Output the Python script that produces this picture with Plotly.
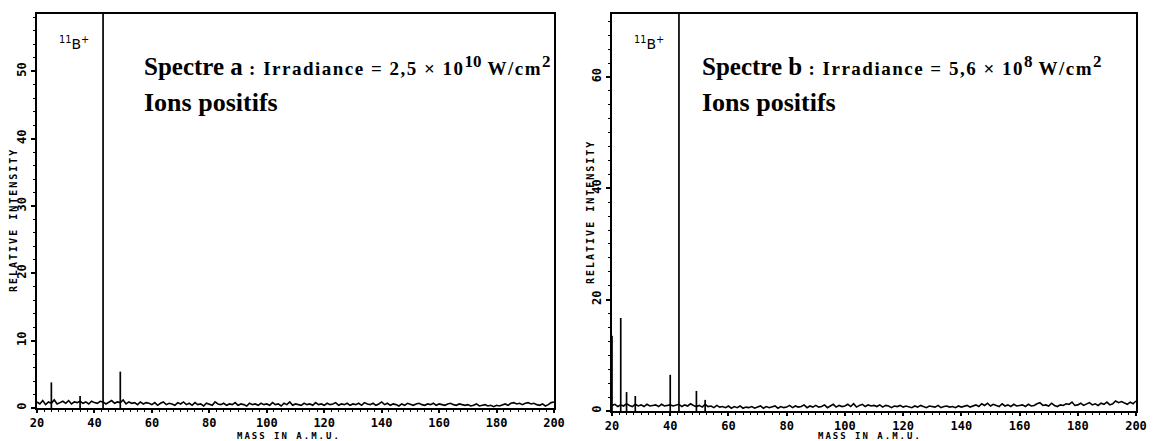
import plotly.graph_objects as go

W, H = 1157, 441

# ---------------- data ----------------
mass_start = 20
noise_a = [0.9,0.6,1.1,0.5,0.9,0.7,1.2,0.6,0.8,1.0,
           0.7,1.1,0.6,0.9,0.8,1.0,0.7,0.9,0.6,1.0,
           0.8,0.7,1.0,0.9,0.6,0.8,1.1,0.7,0.9,0.8,
           1.2,0.6,0.9,0.7,0.8,0.5,0.9,0.6,0.8,0.7,
           0.5,0.8,0.4,0.7,0.9,0.5,0.7,0.6,0.4,0.8,
           0.6,0.9,0.5,0.7,0.4,0.8,0.5,0.6,0.3,0.7,
           0.5,0.4,0.9,0.6,0.5,0.7,0.4,0.6,0.5,0.8,
           0.4,0.6,0.5,0.3,0.7,0.5,0.6,0.4,0.7,0.5,
           0.6,0.4,0.8,0.5,0.6,0.3,0.7,0.5,0.9,0.4,
           0.6,0.5,0.4,0.7,0.5,0.6,0.4,0.8,0.5,0.6,
           0.4,0.7,0.5,0.6,0.8,0.4,0.6,0.5,0.7,0.4,
           0.6,0.5,0.7,0.4,0.8,0.6,0.5,0.7,0.4,0.6,
           0.9,0.5,0.7,0.4,0.6,0.5,0.3,0.6,0.4,0.7,
           0.5,0.4,0.6,0.7,0.5,0.4,0.6,0.5,0.7,0.4,
           0.6,0.5,0.4,0.6,0.7,0.5,0.4,0.6,0.5,0.4,
           0.5,0.3,0.4,0.6,0.3,0.4,0.5,0.3,0.4,0.2,
           0.4,0.3,0.5,0.6,0.4,0.7,0.8,0.6,0.7,0.5,
           0.7,0.8,0.6,0.7,0.5,0.4,0.6,0.3,0.5,0.8,
           0.9]
noise_b = [1.0,1.2,0.8,1.1,0.9,1.3,1.0,0.8,1.2,0.9,
           1.1,0.8,1.2,0.9,1.0,1.1,0.8,1.2,0.9,1.0,
           1.1,0.9,1.0,1.2,0.8,1.1,0.9,1.3,1.0,0.8,
           1.0,0.7,1.2,0.8,0.9,0.6,1.0,0.7,0.8,0.6,
           0.9,0.5,0.8,0.6,0.9,0.5,0.7,0.6,0.8,0.5,
           0.7,0.9,0.5,0.8,0.6,0.7,0.9,0.5,0.8,0.6,
           0.7,1.0,0.6,0.9,0.7,0.8,1.1,0.6,0.9,0.7,
           1.0,0.7,0.8,1.1,0.6,0.9,1.2,0.7,1.0,0.8,
           0.9,1.2,0.8,1.3,0.7,1.0,1.2,0.8,1.1,0.9,
           1.0,0.8,1.1,0.7,1.0,0.9,0.6,0.9,0.8,1.0,
           0.7,0.9,0.8,0.6,0.9,0.7,1.0,0.8,0.6,0.9,
           0.8,0.7,1.0,0.6,0.8,0.9,0.7,0.8,0.6,0.9,
           0.7,0.8,1.0,0.7,0.9,1.1,0.8,1.3,1.0,1.4,
           0.9,1.2,1.0,0.8,1.3,0.9,1.1,0.8,1.2,0.9,
           1.0,1.1,0.8,1.2,0.9,1.0,1.3,1.5,1.0,1.1,
           0.9,1.4,1.0,0.8,1.1,1.0,1.3,1.2,1.6,1.0,
           1.1,1.4,1.0,1.2,1.5,1.1,1.3,1.0,1.4,1.2,
           1.6,1.1,1.3,1.8,1.5,1.7,1.4,1.2,1.6,1.3,
           1.8]
masses = list(range(mass_start, mass_start + len(noise_a)))

peak_mass_a = [25, 35, 43, 49]
peak_int_a = [3.8, 1.8, 100, 5.4]
peak_mass_b = [20, 23, 25, 28, 40, 43, 49, 52]
peak_int_b = [13.5, 16.7, 3.4, 2.7, 6.5, 100, 3.6, 2.0]

x_ticks = [20, 40, 60, 80, 100, 120, 140, 160, 180, 200]
y_ticks_a = [0, 10, 20, 30, 40, 50]
y_ticks_b = [0, 20, 40, 60]

SUP = "<sup><span style='font-size:17px'>{}</span></sup>"
SMALL = "<span style='letter-spacing:1.5px'>{}</span>"
titles = ["<b><span style='font-size:25px'>Spectre a</span>"
          + SMALL.format(" : Irradiance = 2,5 × 10") + SUP.format("10")
          + SMALL.format(" W/cm") + SUP.format("2") + "</b>",
          "<b><span style='font-size:25px'>Spectre b</span>"
          + SMALL.format(" : Irradiance = 5,6 × 10") + SUP.format("8")
          + SMALL.format(" W/cm") + SUP.format("2") + "</b>"]
subtitle = "<b>Ions positifs</b>"
ion_label = "<sup>11</sup>B<sup>+</sup>"
x_title = "<span style='letter-spacing:2px'>MASS IN A.M.U.</span>"
y_title = "<span style='letter-spacing:2px'>RELATIVE INTENSITY</span>"


def spikes(ms, hs):
    xs, ys = [], []
    for m, h in zip(ms, hs):
        xs += [m, m, None]
        ys += [0, h, None]
    return xs, ys


fig = go.Figure()
for i, (noise, pm, ph) in enumerate([(noise_a, peak_mass_a, peak_int_a),
                                     (noise_b, peak_mass_b, peak_int_b)]):
    xa = "x" if i == 0 else "x2"
    ya = "y" if i == 0 else "y2"
    fig.add_trace(go.Scatter(x=masses, y=noise, mode="lines",
                             line=dict(color="black", width=1.6),
                             xaxis=xa, yaxis=ya, showlegend=False))
    sx, sy = spikes(pm, ph)
    fig.add_trace(go.Scatter(x=sx, y=sy, mode="lines",
                             line=dict(color="black", width=1.7),
                             xaxis=xa, yaxis=ya, showlegend=False))

tickfont = dict(family="DejaVu Sans Mono", size=12, color="black", weight="bold")
common_x = dict(range=[20, 200], tickvals=x_ticks, ticks="outside", ticklen=3,
                tickwidth=1.5, tickcolor="black", showline=True, linecolor="black",
                linewidth=1.5, mirror=True, showgrid=False, zeroline=False,
                tickfont=tickfont, automargin=False,
                minor=dict(dtick=2.5, ticks="outside", ticklen=2, tickcolor="black",
                           tickwidth=1, showgrid=False))
common_y = dict(ticks="outside", ticklen=4, tickwidth=1.5, tickcolor="black",
                showline=True, linecolor="black", linewidth=1.5, mirror=True,
                showgrid=False, zeroline=False, tickangle=-90, tickfont=tickfont,
                automargin=False)

fig.update_layout(
    width=W, height=H, margin=dict(l=0, r=0, t=0, b=0, autoexpand=False),
    paper_bgcolor="white", plot_bgcolor="white",
    xaxis=dict(domain=[37 / W, 554 / W], anchor="y", **common_x),
    yaxis=dict(domain=[1 - 408 / H, 1 - 14 / H], anchor="x", range=[0, 58.5],
               tickvals=y_ticks_a,
               minor=dict(dtick=2, ticks="outside", ticklen=2, tickcolor="black",
                          tickwidth=1, showgrid=False),
               **common_y),
    xaxis2=dict(domain=[612 / W, 1136 / W], anchor="y2", **common_x),
    yaxis2=dict(domain=[1 - 411 / H, 1 - 14 / H], anchor="x2", range=[0, 71.3],
                tickvals=y_ticks_b,
                minor=dict(dtick=2.5, ticks="outside", ticklen=2, tickcolor="black",
                           tickwidth=1, showgrid=False),
                **common_y),
)

serif = dict(family="Liberation Serif", size=19, color="black")
ann = []
panels = [(142, 289, 13, 220, 74), (700, 870, 591, 212, 649)]
for idx, (tx, sx, yx, yy, ionx) in enumerate(panels):
    ann.append(dict(x=tx / W, y=1 - 66 / H, xref="paper", yref="paper",
                    text=titles[idx], showarrow=False, xanchor="left",
                    yanchor="middle", font=serif))
    ann.append(dict(x=tx / W, y=1 - 103 / H, xref="paper", yref="paper",
                    text=subtitle, showarrow=False, xanchor="left",
                    yanchor="middle",
                    font=dict(family="Liberation Serif", size=26, color="black")))
    ann.append(dict(x=ionx / W, y=1 - 43 / H, xref="paper", yref="paper",
                    text=ion_label, showarrow=False, xanchor="center",
                    yanchor="middle",
                    font=dict(family="DejaVu Sans", size=14, color="black")))
    ann.append(dict(x=sx / W, y=1 - 436 / H, xref="paper", yref="paper",
                    text=x_title, showarrow=False, xanchor="center",
                    yanchor="middle",
                    font=dict(family="DejaVu Sans Mono", size=9, color="black",
                              weight="bold")))
    ann.append(dict(x=yx / W, y=1 - yy / H, xref="paper", yref="paper",
                    text=y_title, showarrow=False, textangle=-90,
                    xanchor="center", yanchor="middle",
                    font=dict(family="DejaVu Sans Mono", size=10, color="black",
                              weight="bold")))
fig.update_layout(annotations=ann)

fig.write_html("out.html", config={"displayModeBar": False},
               post_script="document.body.style.margin='0';document.body.style.padding='0';")
